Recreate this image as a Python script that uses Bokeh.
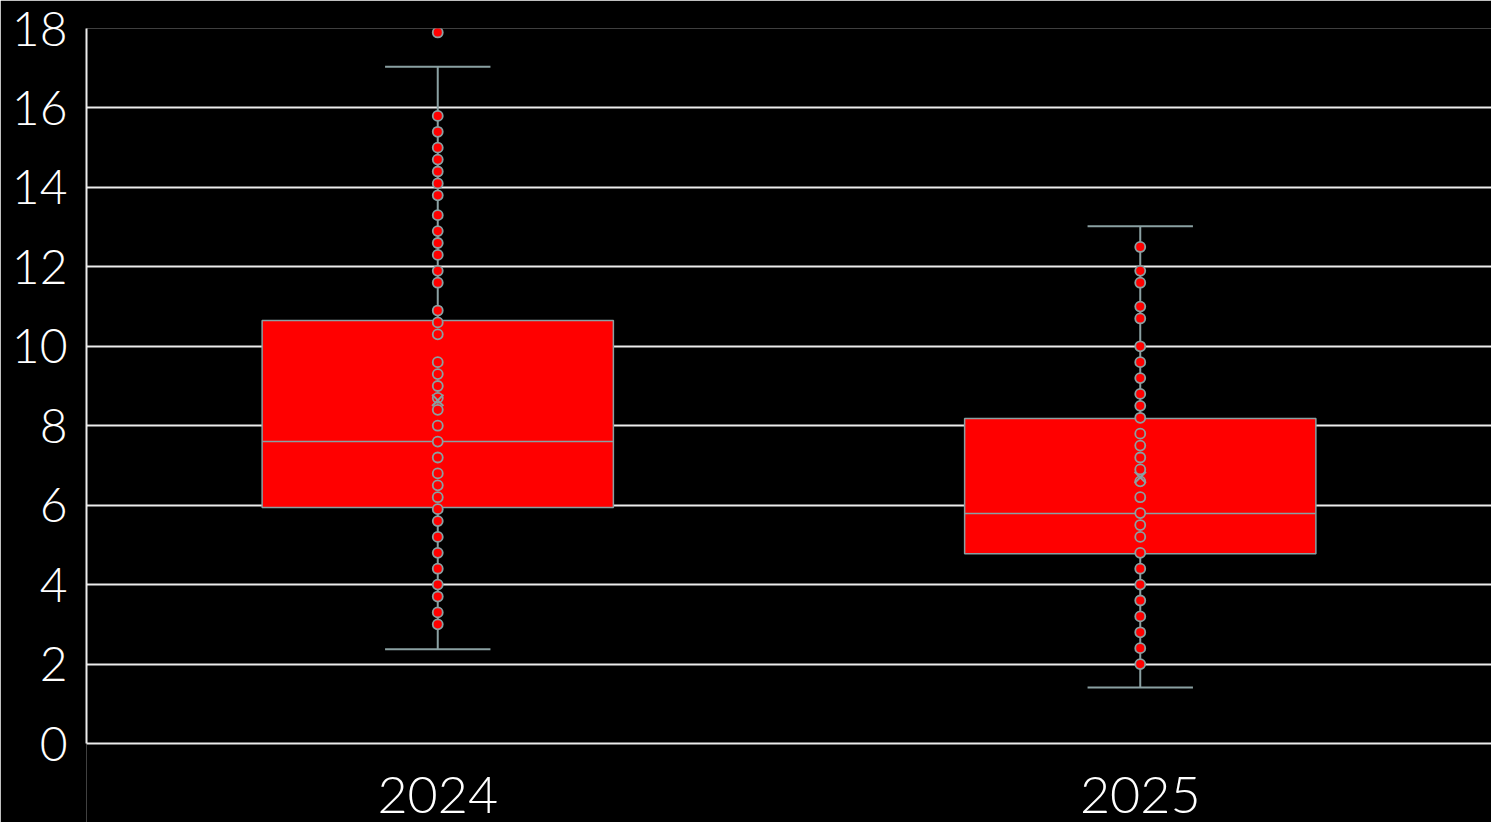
from bokeh.plotting import figure
from bokeh.models import ColumnDataSource, FactorRange, Range1d, FixedTicker, Label
from bokeh.transform import dodge
from bokeh.embed import file_html
from bokeh.resources import INLINE

categories = ["2024", "2025"]

values_2024 = [17.9, 15.8, 15.4, 15.0, 14.7, 14.4, 14.1, 13.8, 13.3, 12.9, 12.6, 12.3,
               11.9, 11.6, 10.9, 10.6, 10.3, 9.6, 9.3, 9.0, 8.7, 8.4, 8.0, 7.6, 7.2,
               6.8, 6.5, 6.2, 5.9, 5.6, 5.2, 4.8, 4.4, 4.0, 3.7, 3.3, 3.0]
values_2025 = [12.5, 11.9, 11.6, 11.0, 10.7, 10.0, 9.6, 9.2, 8.8, 8.5, 8.2, 7.8, 7.5,
               7.2, 6.9, 6.6, 6.2, 5.8, 5.5, 5.2, 4.8, 4.4, 4.0, 3.6, 3.2, 2.8, 2.4, 2.0]

q1 = [5.94, 4.78]
median = [7.60, 5.79]
q3 = [10.65, 8.18]
mean = [8.64, 6.70]
whisker_low = [2.37, 1.41]
whisker_high = [17.04, 13.02]

y_ticks = [0, 2, 4, 6, 8, 10, 12, 14, 16, 18]

GRAY = "#8aa0a2"
RED = "#ff0000"
GRID = "#ececec"
FONT = "'Lato Light', Lato"

# layout: 715 px for the 0..18 value span, 79 px below zero for the category labels
Y_MAX = 18
PX_VALUES, PX_BELOW = 715, 79
y_start = -Y_MAX * PX_BELOW / PX_VALUES
LABEL_Y = -1.30  # vertical centre of the category labels, in value units

p = figure(x_range=FactorRange(*categories, range_padding=0),
           y_range=Range1d(y_start, Y_MAX),
           width=1491, height=822,
           output_backend="svg", toolbar_location=None,
           min_border_left=86, min_border_right=0,
           min_border_top=28, min_border_bottom=0)

p.background_fill_color = "black"
p.border_fill_color = "black"
p.outline_line_color = None

p.ygrid.ticker = FixedTicker(ticks=y_ticks)
p.ygrid.grid_line_color = GRID
p.ygrid.grid_line_width = 2
p.xgrid.grid_line_color = None
p.xaxis.visible = False

yax = p.yaxis[0]
yax.ticker = FixedTicker(ticks=y_ticks)
yax.bounds = (0, Y_MAX)
yax.axis_line_color = GRID
yax.axis_line_width = 2
yax.major_tick_line_color = None
yax.minor_tick_line_color = None
yax.major_tick_out = 0
yax.major_tick_in = 0
yax.major_label_text_color = "white"
yax.major_label_text_font = FONT
yax.major_label_text_font_size = "48px"
yax.major_label_standoff = 19

# category labels under the zero line
for i, cat in enumerate(categories):
    # FactorRange places factor i at synthetic coordinate i + 0.5
    p.add_layout(Label(x=i + 0.5, y=LABEL_Y, text=cat, text_align="center",
                       text_baseline="middle", text_color="white",
                       text_font=FONT, text_font_size="52px"))

box_src = ColumnDataSource(dict(cat=categories, q1=q1, median=median, q3=q3,
                                mean=mean, lo=whisker_low, hi=whisker_high))

# whisker stems
p.segment(x0="cat", x1="cat", y0="lo", y1="q1", source=box_src,
          line_color=GRAY, line_width=2)
p.segment(x0="cat", x1="cat", y0="q3", y1="hi", source=box_src,
          line_color=GRAY, line_width=2)
# caps
for col in ("lo", "hi"):
    p.segment(x0=dodge("cat", -0.075, range=p.x_range),
              x1=dodge("cat", 0.075, range=p.x_range),
              y0=col, y1=col, source=box_src, line_color=GRAY, line_width=2)

# boxes
p.vbar(x="cat", bottom="q1", top="q3", width=0.5, source=box_src,
       fill_color=RED, line_color=GRAY, line_width=1.5)
p.segment(x0=dodge("cat", -0.25, range=p.x_range),
          x1=dodge("cat", 0.25, range=p.x_range),
          y0="median", y1="median", source=box_src, line_color=GRAY, line_width=1.5)

# points
pts_x = ["2024"] * len(values_2024) + ["2025"] * len(values_2025)
pts_y = values_2024 + values_2025
pts_src = ColumnDataSource(dict(x=pts_x, y=pts_y))
p.scatter(x="x", y="y", source=pts_src, marker="circle", size=10,
          fill_color=RED, line_color=GRAY, line_width=1.8)

# mean
p.scatter(x="cat", y="mean", source=box_src, marker="x", size=16,
          line_color=GRAY, line_width=2)

open("out.html", "w").write(file_html(p, INLINE))
